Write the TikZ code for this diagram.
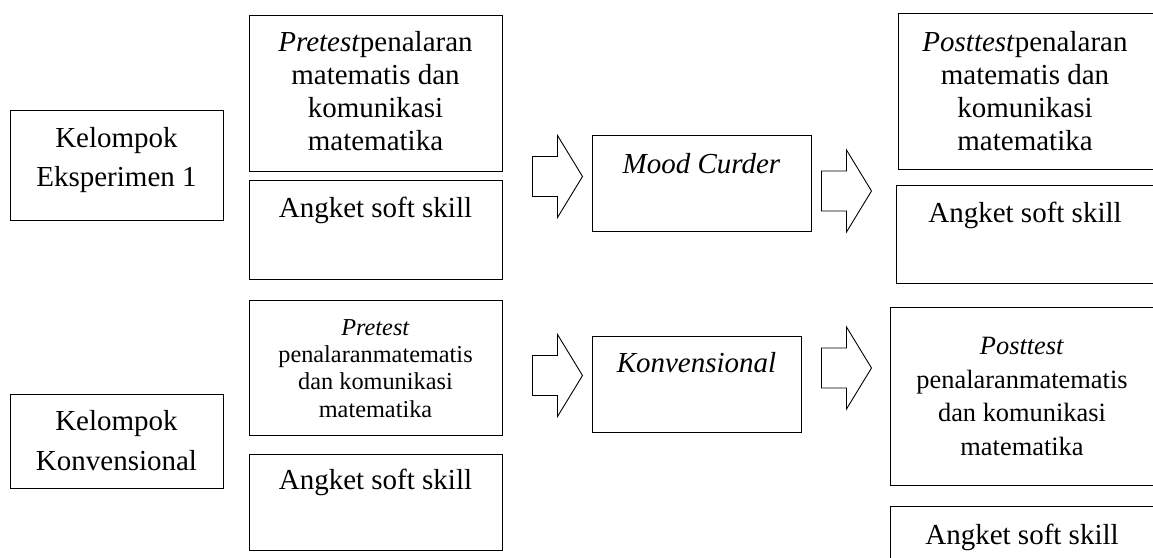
\documentclass[tikz,border=0pt]{standalone}
\usepackage{fontspec}
\setmainfont{Liberation Serif}
\usetikzlibrary{calc}

\tikzset{
  box/.style={draw, rectangle, line width=1pt, inner sep=0pt},
  boxtext/.style={align=center, anchor=base, inner sep=0pt, font=\fontsize{29}{32.7}\selectfont},
  blockarrow/.style={draw, line width=0.9pt, line join=miter}
}

% block arrow, tail centre at #1
\newcommand{\bigarrow}[1]{\draw[blockarrow] (#1) ++(0,-20) -- ++(25,0) -- ++(0,-21) -- ++(25,41) -- ++(-25,41) -- ++(0,-21) -- ++(-25,0) -- cycle;}

\begin{document}
\begin{tikzpicture}[x=1pt, y=-1pt]
        \clip (0,0) rectangle (1153,557);

        % first group (text nodes sit on their last baseline)
        \node[box, minimum width=213, minimum height=110] (kel_eksp) at (116.5,165) {};
        \node[boxtext, font=\fontsize{29}{39}\selectfont] (kel_eksp_text) at (116.5,186) {Kelompok\\Eksperimen 1};

        \node[box, minimum width=253, minimum height=156] (pre_eksp) at (375.5,93) {};
        \node[boxtext] (pre_eksp_text) at (375.5,150) {\textit{Pretest}penalaran\\matematis dan\\komunikasi\\matematika};

        \node[box, minimum width=253, minimum height=99] (ang_eksp) at (375.5,229.5) {};
        \node[boxtext] (ang_eksp_text) at (375.5,217) {Angket soft skill};

        \node[box, minimum width=219, minimum height=96] (mood) at (701.5,183) {};
        \node[boxtext] (mood_text) at (701.5,173) {\textit{Mood Curder}};

        \node[box, minimum width=257, minimum height=156] (post_eksp) at (1026.5,91) {};
        \node[boxtext] (post_eksp_text) at (1025,150) {\textit{Posttest}penalaran\\matematis dan\\komunikasi\\matematika};

        \node[box, minimum width=259, minimum height=98] (angp_eksp) at (1025.5,234) {};
        \node[boxtext] (angp_eksp_text) at (1025,222) {Angket soft skill};

        % second group
        \node[box, minimum width=213, minimum height=94] (kel_konv) at (116.5,441) {};
        \node[boxtext, font=\fontsize{29}{40}\selectfont] (kel_konv_text) at (116.5,470) {Kelompok\\Konvensional};

        \node[box, minimum width=253, minimum height=135] (pre_konv) at (375.5,367.5) {};
        \node[boxtext, font=\fontsize{24.3}{27.3}\selectfont] (pre_konv_text) at (375.5,417) {\textit{Pretest}\\penalaranmatematis\\dan komunikasi\\matematika};

        \node[box, minimum width=253, minimum height=96] (ang_konv) at (375.5,502) {};
        \node[boxtext] (ang_konv_text) at (375.5,489) {Angket soft skill};

        \node[box, minimum width=209, minimum height=96] (konv) at (696.5,384) {};
        \node[boxtext] (konv_text) at (696.5,372) {\textit{Konvensional}};

        \node[box, minimum width=265, minimum height=178] (post_konv) at (1022.5,396) {};
        \node[boxtext, font=\fontsize{26.4}{33.5}\selectfont] (post_konv_text) at (1022,455) {\textit{Posttest}\\penalaranmatematis\\dan komunikasi\\matematika};

        \node[box, minimum width=265, minimum height=94] (angp_konv) at (1022.5,553) {};
        \node[boxtext] (angp_konv_text) at (1022,544) {Angket soft skill};

        % block arrows
        \coordinate (arr1) at ($(pre_eksp.south east)+(30,5)$);
        \coordinate (arr2) at ($(mood.east)+(10,8)$);
        \coordinate (arr3) at ($(pre_konv.east)+(30,8)$);
        \coordinate (arr4) at ($(konv.east)+(20,-16)$);
        \bigarrow{arr1}
        \bigarrow{arr2}
        \bigarrow{arr3}
        \bigarrow{arr4}
\end{tikzpicture}
\end{document}
